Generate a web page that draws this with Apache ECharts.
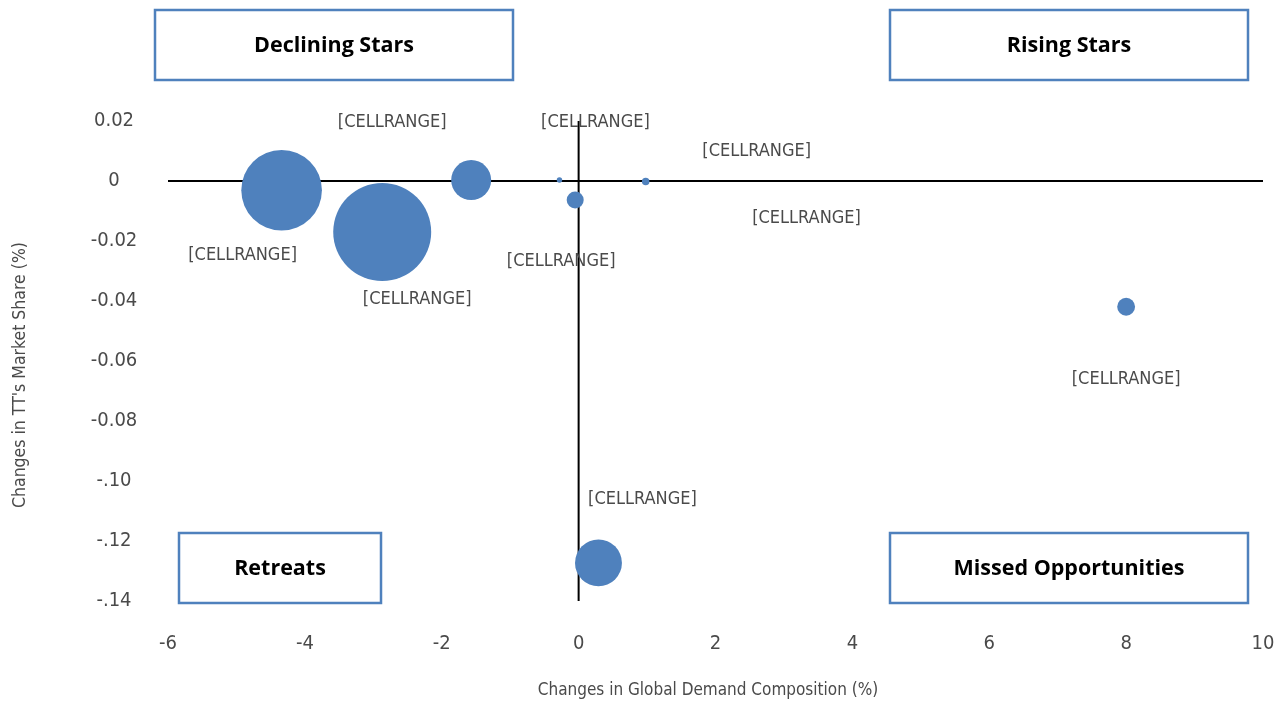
<!DOCTYPE html>
<html>
<head>
<meta charset="utf-8">
<script src="https://cdn.jsdelivr.net/npm/echarts@6/dist/echarts.min.js"></script>
<style>
html,body{margin:0;padding:0;background:#fff;}
#chart{width:1287px;height:706px;}
</style>
</head>
<body>
<div id="chart"></div>
<script>
// ---- data ----
var labels = ['[CELLRANGE]','[CELLRANGE]','[CELLRANGE]','[CELLRANGE]','[CELLRANGE]','[CELLRANGE]','[CELLRANGE]','[CELLRANGE]','[CELLRANGE]'];
var xValues = [-4.34, -2.87, -1.57, -0.28, -0.05, 0.98, 8.00, 0.29, 3.33];
var yValues = [-0.0031, -0.0170, 0.0003, 0.0003, -0.0063, -0.0002, -0.0419, -0.1273, -0.0123];
var bubbleSizes = [65, 96, 16, 0.3, 2.9, 0.56, 3.2, 22, 0];
var xTickLabels = ['-6','-4','-2','0','2','4','6','8','10'];
var yTickLabels = ['-.14','-.12','-.10','-0.08','-0.06','-0.04','-0.02','0','0.02'];
var quadrantNames = ['Declining Stars','Rising Stars','Retreats','Missed Opportunities'];
var xTitle = 'Changes in Global Demand Composition (%)';
var yTitle = "Changes in TT's Market Share (%)";

// ---- layout (label offsets in px relative to bubble centre) ----
var labelOffsets = [[-39,65],[35,67],[-79,-58],[36,-58],[-14,61],[111,-30],[0,73],[44,-64],[0,0]];
var boxes = [[155,10,358,70],[890,10,358,70],[179,533,202,70],[890,533,358,70]];

var xMin=-6, xMax=10, xStep=2, yMin=-0.14, yMax=0.02, yStep=0.02;
var narrow = '"DejaVu Sans Condensed","Liberation Sans Narrow",sans-serif';
var grey = '#4a4a4a';

var points = xValues.map(function(x,i){
  return {value:[x, yValues[i], bubbleSizes[i]],
          label:{offset:labelOffsets[i]}};
});

var graphics = [];
boxes.forEach(function(b,i){
  graphics.push({type:'rect', shape:{x:b[0],y:b[1],width:b[2],height:b[3]},
    style:{fill:'#fff', stroke:'#4f81bd', lineWidth:2.5}, z:10});
  graphics.push({type:'text', x:b[0]+b[2]/2, y:b[1]+b[3]/2+1, z:11,
    style:{text:quadrantNames[i], font:'bold 21.5px "Open Sans", "Noto Sans", sans-serif', fill:'#000',
      textAlign:'center', textVerticalAlign:'middle', align:'center', verticalAlign:'middle'}});
});
graphics.push({type:'text', x:708, y:691, z:11,
  style:{text:xTitle, font:'17px '+narrow, fill:grey, textAlign:'center', textVerticalAlign:'middle', align:'center', verticalAlign:'middle'}});
graphics.push({type:'text', x:20, y:375, rotation:Math.PI/2, z:11,
  style:{text:yTitle, font:'17.5px '+narrow, fill:grey, textAlign:'center', textVerticalAlign:'middle', align:'center', verticalAlign:'middle'}});

var chart = echarts.init(document.getElementById('chart'));
chart.setOption({
  animation:false,
  grid:{left:168, right:24, top:121, bottom:105},
  xAxis:{type:'value', min:xMin, max:xMax, interval:xStep,
    axisLine:{show:false, onZero:false}, axisTick:{show:false}, splitLine:{show:false},
    axisLabel:{margin:33, fontSize:20, fontFamily:narrow, color:grey,
      formatter:function(v){return xTickLabels[Math.round((v-xMin)/xStep)];}}},
  yAxis:{type:'value', min:yMin, max:yMax, interval:yStep,
    axisLine:{show:false, onZero:false}, axisTick:{show:false}, splitLine:{show:false},
    axisLabel:{margin:54, align:'center', fontSize:20, fontFamily:narrow, color:grey,
      formatter:function(v){return yTickLabels[Math.round((v-yMin)/yStep)];}}},
  graphic:graphics,
  series:[
    {type:'line', data:[[xMin,0],[xMax,0]], symbol:'none', z:1, silent:true,
      lineStyle:{color:'#000', width:2}},
    {type:'line', data:[[0,yMin],[0,yMax]], symbol:'none', z:1, silent:true,
      lineStyle:{color:'#000', width:2}},
    {type:'scatter', z:3, data:points,
      symbolSize:function(v){return Math.sqrt(v[2])*10;},
      itemStyle:{color:'#4f81bd', opacity:1},
      label:{show:true, position:'inside', fontSize:18, fontFamily:narrow, color:grey,
        formatter:function(p){return labels[p.dataIndex];}}}
  ]
});
</script>
</body>
</html>
